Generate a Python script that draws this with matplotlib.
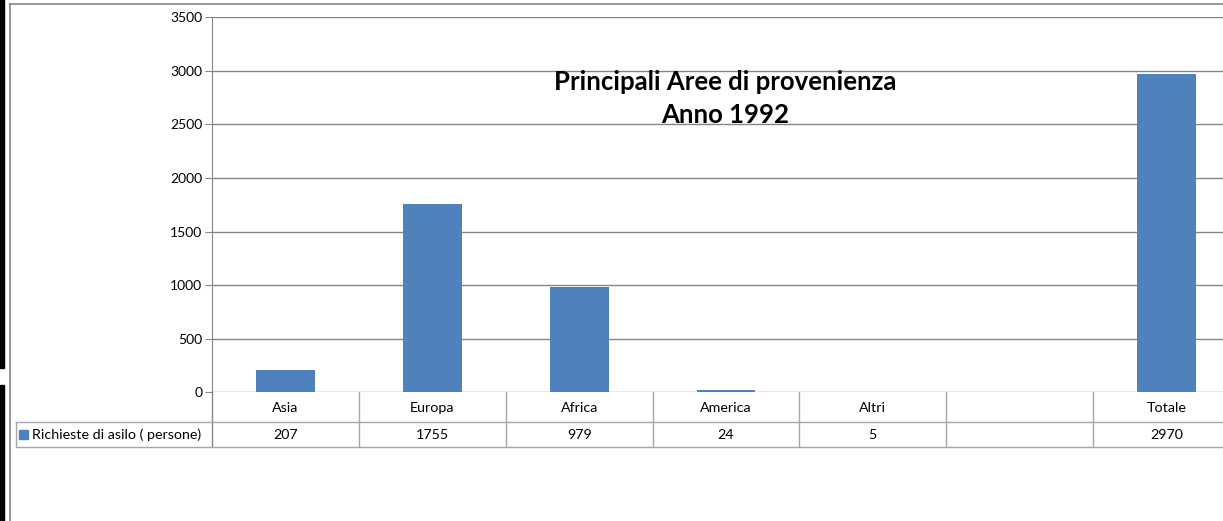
import matplotlib
matplotlib.use("Agg")
import matplotlib.pyplot as plt
from matplotlib.lines import Line2D
from matplotlib.patches import Rectangle
import numpy as np

categories = ["Asia", "Europa", "Africa", "America", "Altri", "", "Totale"]
values = [207, 1755, 979, 24, 5, None, 2970]
series_name = "Richieste di asilo ( persone)"
title_lines = ["Principali Aree di provenienza", "Anno 1992"]
yticks = [0, 500, 1000, 1500, 2000, 2500, 3000, 3500]

W, H = 1223, 521
bar_color = "#4F81BD"
grid_color = "#868686"
table_color = "#a6a6a6"

plt.rcParams["font.family"] = ["Lato", "DejaVu Sans"]

fig = plt.figure(figsize=(W / 100, H / 100), dpi=100)


def px(x, y):
    # pixel coords (from top-left) -> figure fraction
    return x / W, 1 - y / H


# plot area in pixels
x0, x1 = 212, 1240
y_top, y_zero = 17.3, 392.3
ax = fig.add_axes([x0 / W, 1 - y_zero / H, (x1 - x0) / W, (y_zero - y_top) / H])

xs = np.arange(len(categories))
heights = [v if v is not None else 0 for v in values]
ax.bar(xs, heights, width=0.4, color=bar_color, zorder=3)
ax.set_xlim(-0.5, len(categories) - 0.5)
ax.set_ylim(0, 3500)
ax.set_yticks(yticks)
ax.set_yticklabels([str(t) for t in yticks], fontsize=10)
ax.tick_params(axis="y", length=5, color=grid_color, pad=2)
ax.tick_params(axis="x", bottom=False, labelbottom=False)
ax.grid(axis="y", color=grid_color, linewidth=1, zorder=0)
for s in ["top", "right", "bottom"]:
    ax.spines[s].set_visible(False)
ax.spines["left"].set_color(grid_color)
ax.spines["left"].set_bounds(0, 3500)

# table under the chart (pixel coords)
col_w = (x1 - x0) / len(categories)
r1, r2 = 421.5, 446.8
lines = []
# vertical axis line continued through table
lines.append(((x0, x0), (y_zero, r2), grid_color))
# horizontal table lines
lines.append(((16, W), (r1, r1), table_color))
lines.append(((16, W), (r2, r2), table_color))
lines.append(((16, 16), (r1, r2), table_color))
for i in range(1, len(categories)):
    xc = x0 + i * col_w
    lines.append(((xc, xc), (y_zero, r2), table_color))
for (lx, ly, c) in lines:
    fx = [a / W for a in lx]
    fy = [1 - b / H for b in ly]
    fig.add_artist(Line2D(fx, fy, color=c, linewidth=1))

for i, (cat, v) in enumerate(zip(categories, values)):
    cx = x0 + (i + 0.5) * col_w
    fig.text(*px(cx, (y_zero + r1) / 2 + 1), cat, ha="center", va="center", fontsize=10.3)
    if v is not None:
        fig.text(*px(cx, (r1 + r2) / 2 + 1), str(v), ha="center", va="center", fontsize=10.3)

# legend key in table
fig.add_artist(Rectangle(px(19, 439), 9 / W, 9 / H, color=bar_color))
fig.text(*px(32, (r1 + r2) / 2 + 1), series_name, ha="left", va="center", fontsize=10.3)

# title
fig.text(*px(725, 82), title_lines[0], ha="center", va="center", fontsize=18.5, fontweight="bold")
fig.text(*px(725, 115), title_lines[1], ha="center", va="center", fontsize=18.5, fontweight="bold")

# outer chart border and black margin
fig.add_artist(Line2D([10 / W, 10 / W], [0, 1 - 4 / H], color=grid_color, linewidth=1.2))
fig.add_artist(Line2D([10 / W, 1], [1 - 4 / H, 1 - 4 / H], color=grid_color, linewidth=1.2))
fig.add_artist(Rectangle(px(0, 368), 4 / W, 368 / H, color="black"))
fig.add_artist(Rectangle(px(0, H), 4 / W, (H - 385) / H, color="black"))

fig.savefig("out.png", dpi=100)
